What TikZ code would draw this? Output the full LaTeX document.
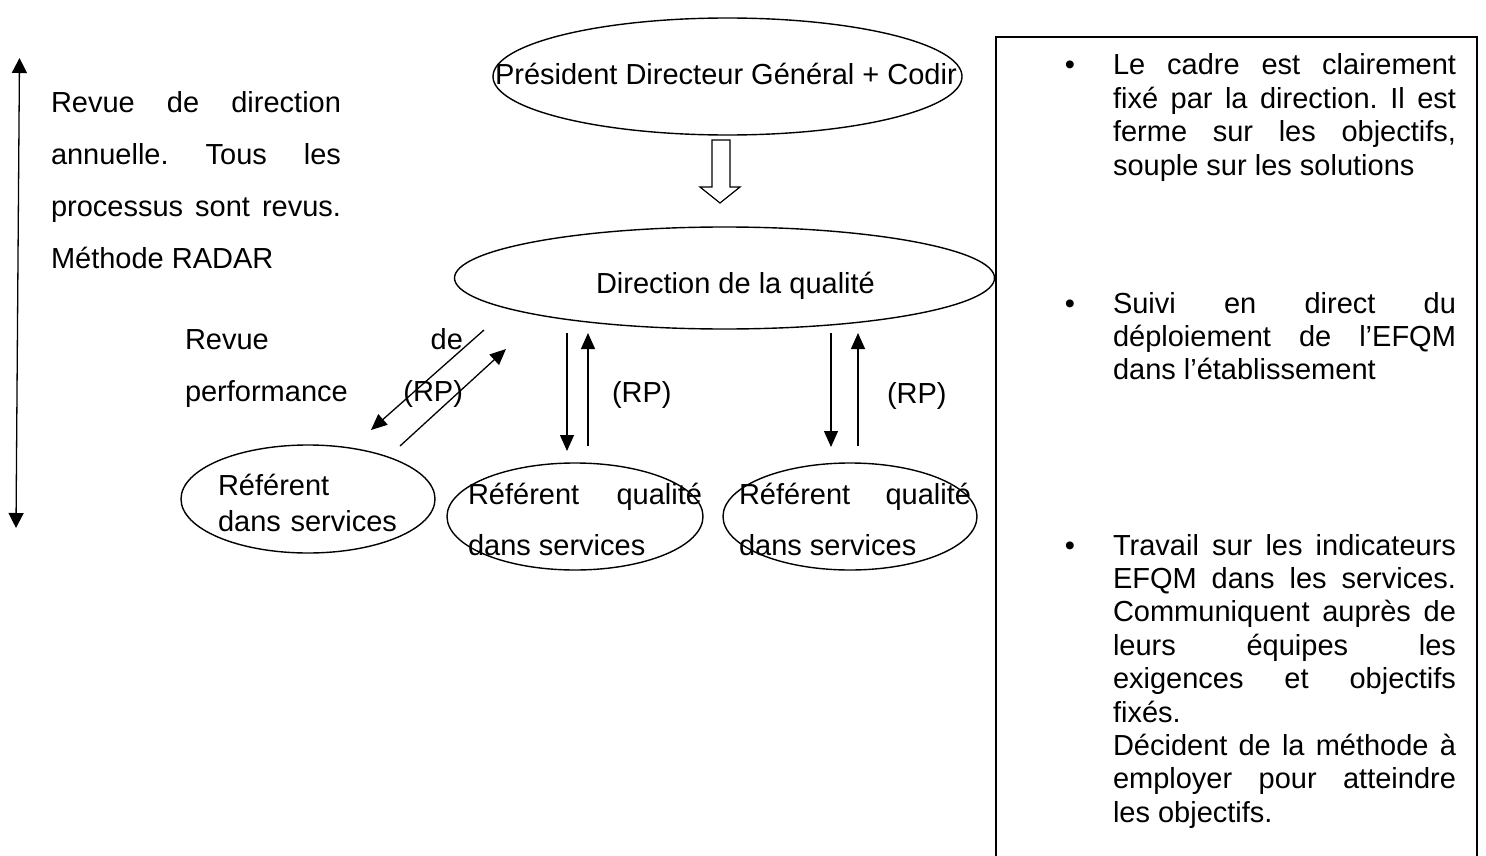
\documentclass[tikz,border=0pt]{standalone}
\usepackage{fontspec}
\setmainfont{Liberation Sans}
\usetikzlibrary{arrows.meta,shapes.geometric}
\frenchspacing
\begin{document}
\begin{tikzpicture}[x=1pt,y=-1pt,
  txt/.style={font=\fontsize{29}{33.4}\selectfont, inner sep=0pt, outer sep=0pt},
  ell/.style={draw, ellipse, line width=1.4pt, inner sep=0pt},
  arr/.style={line width=1.3pt, -{Triangle[length=16pt,width=14pt]}},
  hollow/.style={draw, line width=1.2pt, fill=white},
  frame/.style={line width=1.5pt}]
\useasboundingbox (0,0) rectangle (1486,856);

% left vertical double arrow
\coordinate (la1) at (16,528);
\coordinate (la2) at (19.5,58);
\draw[line width=1.3pt, {Triangle[length=15pt,width=15pt]}-{Triangle[length=15pt,width=15pt]}] (la1) -- (la2);

% left text
\node[txt, anchor=base west, text width=290pt, align=justify,
      font=\fontsize{29}{52}\selectfont\frenchspacing] (revue) at (51,113)
  {Revue de direction\linebreak annuelle. Tous les\linebreak processus sont revus.\linebreak Méthode RADAR};

% top ellipse
\node[ell, minimum width=469pt, minimum height=117pt] (pdg) at (727.5,76.5) {};
\node[txt, anchor=base west] (pdgt) at (495,85) {Président Directeur Général + Codir};

% hollow arrow
\draw[hollow] (712,140) -- (730,140) -- (730,187) -- (740,187) -- (720,203)
  -- (700,187) -- (712,187) -- cycle;

% direction ellipse
\node[ell, minimum width=540pt, minimum height=102pt] (dq) at (724.5,278) {};
\node[txt, anchor=base west] (dqt) at (596,293) {Direction de la qualité};

% revue de performance
\node[txt, anchor=base west, text width=278pt, align=justify,
      font=\fontsize{29}{52}\selectfont] (rp) at (185,349)
  {Revue\hfill de\\performance\hfill(RP)};

% diagonal arrows
\coordinate (d1s) at (484,330);
\coordinate (d1e) at (371,430);
\coordinate (d2s) at (400,446);
\coordinate (d2e) at (506,349);
\draw[arr] (d1s) -- (d1e);
\draw[arr] (d2s) -- (d2e);

% vertical arrows pair 1
\coordinate (v1s) at (567,333);
\coordinate (v1e) at (567,451);
\coordinate (v2s) at (588,446);
\coordinate (v2e) at (588,333);
\draw[arr] (v1s) -- (v1e);
\draw[arr] (v2s) -- (v2e);
\node[txt, anchor=base west] (rp1) at (612,402) {(RP)};

% vertical arrows pair 2
\coordinate (v3s) at (831,333);
\coordinate (v3e) at (831,447);
\coordinate (v4s) at (858,446);
\coordinate (v4e) at (858,333);
\draw[arr] (v3s) -- (v3e);
\draw[arr] (v4s) -- (v4e);
\node[txt, anchor=base west] (rp2) at (887,403) {(RP)};

% bottom ellipses
\node[ell, minimum width=254pt, minimum height=108pt] (e1) at (308,499) {};
\node[txt, anchor=base west, text width=220pt, align=left,
      font=\fontsize{29}{36}\selectfont] (e1t) at (218,495)
  {Référent\\dans services};

\node[ell, minimum width=256pt, minimum height=107pt] (e2) at (575,516.5) {};
\node[txt, anchor=base west, text width=234pt, align=justify,
      font=\fontsize{29}{51}\selectfont] (e2t) at (468,504)
  {Référent qualité\linebreak dans services};

\node[ell, minimum width=254pt, minimum height=107pt] (e3) at (850,516.5) {};
\node[txt, anchor=base west, text width=232pt, align=justify,
      font=\fontsize{29}{51}\selectfont] (e3t) at (739,504)
  {Référent qualité\linebreak dans services};

% right frame
\coordinate (fbl) at (996,856);
\coordinate (ftl) at (996,37);
\coordinate (ftr) at (1477,37);
\coordinate (fbr) at (1477,856);
\draw[frame] (fbl) -- (ftl) -- (ftr) -- (fbr);

% bullets and paragraphs
\node[txt, anchor=base] (b1) at (1070,75) {•};
\node[txt, anchor=base west, text width=343pt, align=justify,
      font=\fontsize{29}{33.4}\selectfont\frenchspacing] (p1) at (1113,75)
  {Le cadre est clairement\linebreak fixé par la direction. Il est\linebreak ferme sur les objectifs,\linebreak souple sur les solutions};

\node[txt, anchor=base] (b2) at (1070,313) {•};
\node[txt, anchor=base west, text width=343pt, align=justify] (p2) at (1113,313)
  {Suivi en direct du\linebreak déploiement de l’EFQM\linebreak dans l’établissement};

\node[txt, anchor=base] (b3) at (1070,555) {•};
\node[txt, anchor=base west, text width=343pt, align=justify,
      font=\fontsize{29}{33.4}\selectfont\frenchspacing] (p3) at (1113,555)
  {Travail sur les indicateurs\linebreak EFQM dans les services.\linebreak Communiquent auprès de\linebreak leurs équipes les\linebreak exigences et objectifs\linebreak fixés.\par
   Décident de la méthode à\linebreak employer pour atteindre\linebreak les objectifs.};
\end{tikzpicture}
\end{document}
